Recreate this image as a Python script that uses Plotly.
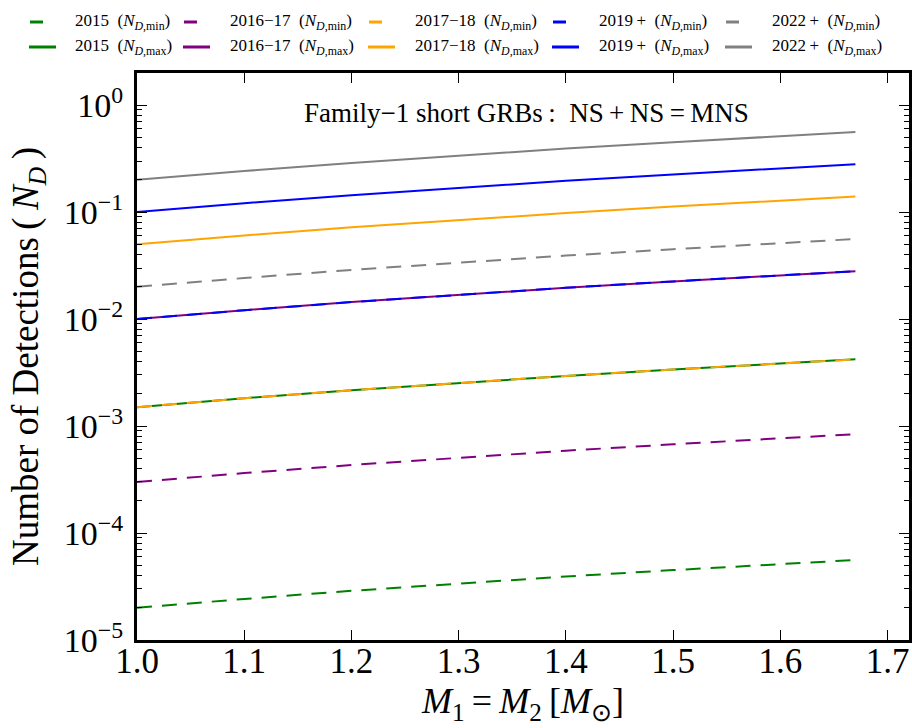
import plotly.graph_objects as go

mass = [1.0, 1.1, 1.2, 1.3, 1.4, 1.5, 1.6, 1.67]

n2015_min = [2.0e-5, 2.42e-5, 2.88e-5, 3.38e-5, 3.92e-5, 4.5e-5, 5.12e-5, 5.6e-5]
n2015_max = [1.5e-3, 1.82e-3, 2.16e-3, 2.54e-3, 2.94e-3, 3.38e-3, 3.84e-3, 4.2e-3]
n2016_min = [3.0e-4, 3.63e-4, 4.32e-4, 5.07e-4, 5.88e-4, 6.75e-4, 7.68e-4, 8.4e-4]
n2016_max = [1.0e-2, 1.21e-2, 1.44e-2, 1.69e-2, 1.96e-2, 2.25e-2, 2.56e-2, 2.8e-2]
n2017_min = [1.5e-3, 1.82e-3, 2.16e-3, 2.54e-3, 2.94e-3, 3.38e-3, 3.84e-3, 4.2e-3]
n2017_max = [5.0e-2, 6.05e-2, 7.2e-2, 8.45e-2, 9.8e-2, 0.1125, 0.128, 0.14]
n2019_min = [1.0e-2, 1.21e-2, 1.44e-2, 1.69e-2, 1.96e-2, 2.25e-2, 2.56e-2, 2.8e-2]
n2019_max = [0.1, 0.121, 0.144, 0.169, 0.196, 0.225, 0.256, 0.28]
n2022_min = [2.0e-2, 2.42e-2, 2.88e-2, 3.38e-2, 3.92e-2, 4.5e-2, 5.12e-2, 5.6e-2]
n2022_max = [0.2, 0.242, 0.288, 0.338, 0.392, 0.45, 0.512, 0.56]

periods = ["2015", "2016\u221217", "2017\u221218", "2019\u2009+", "2022\u2009+"]
colors = ["green", "purple", "orange", "blue", "gray"]
mins = [n2015_min, n2016_min, n2017_min, n2019_min, n2022_min]
maxs = [n2015_max, n2016_max, n2017_max, n2019_max, n2022_max]

xticks = [1.0, 1.1, 1.2, 1.3, 1.4, 1.5, 1.6, 1.7]
xticktext = ["1.0", "1.1", "1.2", "1.3", "1.4", "1.5", "1.6", "1.7"]
yticks = [1e-5, 1e-4, 1e-3, 1e-2, 1e-1, 1e0]
yticktext = ["10<sup>\u22125</sup>", "10<sup>\u22124</sup>", "10<sup>\u22123</sup>",
             "10<sup>\u22122</sup>", "10<sup>\u22121</sup>", "10<sup>0</sup>"]
minor_vals = [m * 10 ** e for e in range(-5, 1) for m in range(2, 10)]

FONT = "Liberation Serif"
DASH = "15px,10px"

W, H = 912, 728
ML, MR, MT, MB = 137, 3, 73, 88
PW, PH = W - ML - MR, H - MT - MB


def px(x):
    return (x - ML) / PW


def py(y):
    return 1 - (y - MT) / PH


fig = go.Figure()

for i in range(5):
    fig.add_trace(go.Scatter(
        x=mass, y=mins[i], mode="lines", showlegend=False,
        line=dict(color=colors[i], width=2, dash=DASH),
        name=f"{periods[i]} (N_D,min)",
    ))
    fig.add_trace(go.Scatter(
        x=mass, y=maxs[i], mode="lines", showlegend=False,
        line=dict(color=colors[i], width=2),
        name=f"{periods[i]} (N_D,max)",
    ))

# invisible trace on right-side axis to mirror minor ticks
fig.add_trace(go.Scatter(x=[1.0], y=[1e-3], yaxis="y2", mode="markers",
                         marker=dict(opacity=0), showlegend=False, hoverinfo="skip"))

# manual legend (2 rows x 5 columns)
sym_x = [29, 183, 368, 552, 725]
txt_x = [73, 228, 413, 597, 770]
row_y = [22, 47]
for i in range(5):
    fig.add_shape(type="line", xref="paper", yref="paper",
                  x0=px(sym_x[i] + 1), x1=px(sym_x[i] + 14),
                  y0=py(row_y[0]), y1=py(row_y[0]),
                  line=dict(color=colors[i], width=3))
    fig.add_shape(type="line", xref="paper", yref="paper",
                  x0=px(sym_x[i]), x1=px(sym_x[i] + 27),
                  y0=py(row_y[1]), y1=py(row_y[1]),
                  line=dict(color=colors[i], width=3))
    for r, lab in enumerate(["min", "max"]):
        fig.add_annotation(
            x=px(txt_x[i]), y=py(row_y[r]), xref="paper", yref="paper",
            text=f"{periods[i]}\u00a0 (<i>N</i><sub><i>D</i>,{lab}</sub>)",
            showarrow=False, xanchor="left", yanchor="middle",
            font=dict(family=FONT, size=17, color="black"),
        )

fig.add_annotation(
    x=px(526), y=py(113), xref="paper", yref="paper",
    text="Family\u22121 short GRBs\u2009:\u00a0 NS\u2009+\u2009NS\u2009=\u2009MNS",
    showarrow=False, font=dict(family=FONT, size=27, color="black"),
    xanchor="center", yanchor="middle",
)

fig.update_layout(
    width=W, height=H,
    margin=dict(l=ML, r=MR, t=MT, b=MB, autoexpand=False),
    paper_bgcolor="white", plot_bgcolor="white",
    font=dict(family=FONT, color="black"),
    showlegend=False,
    xaxis=dict(
        range=[1.0, 1.72], tickvals=xticks, ticktext=xticktext,
        ticks="inside", ticklen=10, tickwidth=1, tickcolor="black",
        showline=True, linewidth=3, linecolor="black", mirror="ticks",
        showgrid=False, zeroline=False, automargin=False,
        ticklabelstandoff=-12,
        tickfont=dict(family=FONT, size=35, color="black"),
        title=dict(text="<i>M</i><sub>1</sub>\u2009=\u2009<i>M</i><sub>2</sub>\u2009[<i>M</i><sub>\u2299</sub>]",
                   font=dict(family=FONT, size=36, color="black"), standoff=8),
    ),
    yaxis=dict(
        type="log", range=[-5, 0.3], tickvals=yticks, ticktext=yticktext,
        ticks="inside", ticklen=10, tickwidth=1, tickcolor="black",
        minor=dict(ticks="inside", ticklen=5, tickwidth=1, tickcolor="black",
                   tickvals=minor_vals, showgrid=False),
        showline=True, linewidth=3, linecolor="black", mirror=True,
        showgrid=False, zeroline=False, automargin=False,
        ticklabelstandoff=4,
        tickfont=dict(family=FONT, size=34, color="black"),
        title=dict(text="Number of Detections\u2009(\u2009<i>N<sub>D</sub></i>\u2009)",
                   font=dict(family=FONT, size=37, color="black"), standoff=14),
    ),
    yaxis2=dict(
        type="log", range=[-5, 0.3], overlaying="y", side="right",
        tickvals=yticks, showticklabels=False,
        ticks="inside", ticklen=10, tickwidth=1, tickcolor="black",
        minor=dict(ticks="inside", ticklen=5, tickwidth=1, tickcolor="black",
                   tickvals=minor_vals, showgrid=False),
        showline=False, showgrid=False, zeroline=False, automargin=False,
    ),
)

fig.write_html("out.html",
               config={"displayModeBar": False},
               post_script="document.body.style.margin='0px';document.body.style.overflow='hidden';")
